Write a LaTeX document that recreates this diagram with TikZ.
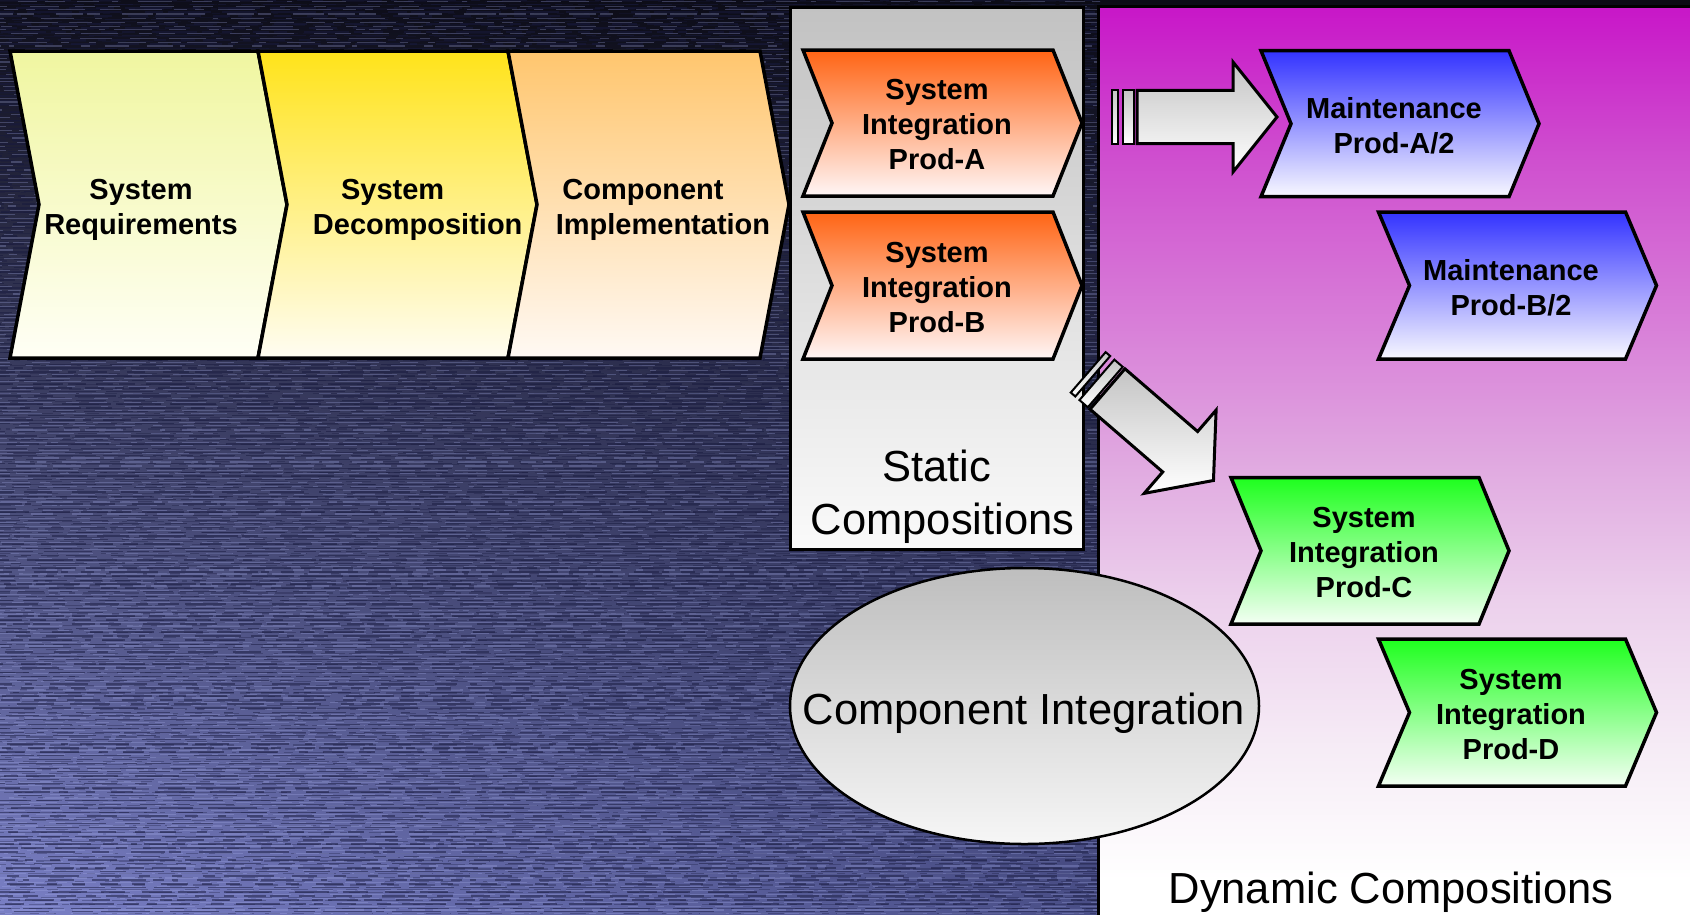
\documentclass[tikz,border=0pt]{standalone}
\usepackage{fontspec}
\setmainfont{Liberation Sans}
\usetikzlibrary{shapes.geometric,shadings}

% palette
\definecolor{bgUL}{RGB}{14,14,26}
\definecolor{bgUR}{RGB}{10,10,20}
\definecolor{bgLL}{RGB}{122,128,198}
\definecolor{bgLR}{RGB}{48,52,102}
\definecolor{streakLight}{RGB}{168,176,236}
\definecolor{streakDark}{RGB}{24,26,62}
\definecolor{reqTop}{RGB}{240,246,160}
\definecolor{reqBot}{RGB}{255,255,246}
\definecolor{decTop}{RGB}{255,227,26}
\definecolor{decBot}{RGB}{255,253,242}
\definecolor{impTop}{RGB}{255,198,110}
\definecolor{impBot}{RGB}{255,249,244}
\definecolor{orgTop}{RGB}{255,100,20}
\definecolor{orgBot}{RGB}{255,246,246}
\definecolor{bluTop}{RGB}{51,51,255}
\definecolor{bluBot}{RGB}{248,248,255}
\definecolor{grnTop}{RGB}{30,255,30}
\definecolor{grnBot}{RGB}{244,255,244}
\definecolor{statTop}{RGB}{194,194,194}
\definecolor{statBot}{RGB}{250,250,250}
\definecolor{ellTop}{RGB}{190,190,190}
\definecolor{ellBot}{RGB}{246,246,246}
\definecolor{arrTop}{RGB}{196,196,196}
\definecolor{dynA}{RGB}{246,236,246}
\definecolor{dynB}{RGB}{236,208,236}
\definecolor{dynC}{RGB}{224,168,224}
\definecolor{dynD}{RGB}{216,126,216}
\definecolor{dynE}{RGB}{207,80,207}
\definecolor{dynF}{RGB}{200,22,200}

% magenta-to-white fill of the dynamic panel
\pgfdeclareverticalshading{dynshade}{100bp}{%
  color(0bp)=(white); color(27.2bp)=(white); color(34.3bp)=(dynA);
  color(42.5bp)=(dynB); color(50.2bp)=(dynC); color(57.7bp)=(dynD);
  color(66.5bp)=(dynE); color(75bp)=(dynF); color(100bp)=(dynF)}

% chevron: style, left x, top y, bottom y, body width, point depth
\newcommand\chevshape[6]{%
  \path[#1] (#2,#3) -- ({#2+#5},#3) -- ({#2+#5+#6},{(#3+#4)/2})
    -- ({#2+#5},#4) -- (#2,#4) -- ({#2+#6},{(#3+#4)/2}) -- cycle;}

% one row of woven streaks with a random dash rhythm
\newcommand\streakrow[6]{% colour, opacity, width, y, min on, spread
  \pgfmathsetmacro\sa{#5+rnd*#6}\pgfmathsetmacro\sb{3+rnd*20}
  \pgfmathsetmacro\sc{#5+rnd*#6}\pgfmathsetmacro\sd{3+rnd*20}
  \pgfmathsetmacro\se{#5+rnd*#6}\pgfmathsetmacro\sf{3+rnd*20}
  \pgfmathsetmacro\sg{#5+rnd*#6}\pgfmathsetmacro\sh{3+rnd*20}
  \pgfmathsetmacro\si{#5+rnd*#6}\pgfmathsetmacro\sj{3+rnd*20}
  \pgfmathsetmacro\ph{rnd*300}
  \pgfmathsetmacro\yj{#4+rnd*1.2-0.6}
  \draw[#1, opacity=#2, line width=#3,
    dash pattern=on \sa pt off \sb pt on \sc pt off \sd pt on \se pt off \sf pt
      on \sg pt off \sh pt on \si pt off \sj pt, dash phase=\ph pt]
    (-10,\yj) -- (1110,\yj);}

\tikzset{
  chev/.style={draw=black, line width=3.5pt, line join=miter},
  reqchev/.style={chev, top color=reqTop, bottom color=reqBot},
  decchev/.style={chev, top color=decTop, bottom color=decBot},
  impchev/.style={chev, top color=impTop, bottom color=impBot},
  orgchev/.style={chev, top color=orgTop, bottom color=orgBot},
  bluchev/.style={chev, top color=bluTop, bottom color=bluBot},
  grnchev/.style={chev, top color=grnTop, bottom color=grnBot},
  lbl/.style={font=\bfseries\fontsize{29}{35}\selectfont, align=center,
    inner sep=0pt, text=black},
  biglbl/.style={font=\fontsize{43.5}{53}\selectfont, align=center,
    inner sep=0pt, text=black},
  arrowbody/.style={draw=black, line width=3pt, line join=miter,
    top color=arrTop, bottom color=white},
  arrowring/.style={arrowbody, line width=2pt},
  blockarrow/.pic={
    \path[arrowring] (-25.5,-26.7) rectangle (-19.5,26.7);
    \path[arrowring] (-14,-26.7) rectangle (-3,26.7);
    \path[arrowbody] (0,-26.7) -- (96,-26.7) -- (96,-55) -- (140,0)
      -- (96,55) -- (96,26.7) -- (0,26.7) -- cycle;
  },
}

\begin{document}
\begin{tikzpicture}[x=1pt, y=-1pt]
\useasboundingbox (0,0) rectangle (1690,914);

% textured navy backdrop
\shade[upper left=bgUL, upper right=bgUR, lower left=bgLL, lower right=bgLR]
  (0,0) rectangle (1690,914);
\begin{scope}
\clip (0,0) rectangle (1100,914);
\pgfmathsetseed{23}
\foreach \yy in {0,4,...,916}{
  \streakrow{streakDark}{0.5}{1.6pt}{\yy}{6}{45}
  \streakrow{streakDark}{0.3}{1.2pt}{\yy+1}{4}{25}
  \streakrow{streakLight}{0.28}{1.2pt}{\yy+2.2}{5}{35}
}
\end{scope}

% panels
\path[draw=black, line width=3pt, top color=statTop, bottom color=statBot]
  (790,7) rectangle (1083,549);
\path[draw=black, line width=3pt, shading=dynshade]
  (1098,6) rectangle (1700,920);

% development phases
\chevshape{reqchev}{10}{51}{358}{248}{29}
\chevshape{decchev}{258}{51}{358}{250}{29}
\chevshape{impchev}{508}{51}{358}{252}{29}
\node[lbl] (req) at (141,210) {System\\Requirements};
\node[lbl] (dec) at (417.7,210) {System\kern50pt\\Decomposition};
\node[lbl] (imp) at (663,210) {Component\kern40pt\\Implementation};

% static compositions
\chevshape{orgchev}{803}{50}{196}{250}{29}
\chevshape{orgchev}{803}{212}{359}{250}{29}
\node[lbl] (siA) at (937,125) {System\\Integration\\Prod-A};
\node[lbl] (siB) at (937,288) {System\\Integration\\Prod-B};
\node[biglbl] (stat) at (942.6,497) {Static\kern12pt\\Compositions};

% component integration
\node[ellipse, draw=black, line width=2.5pt, minimum width=469pt,
  minimum height=276pt, inner sep=0pt, top color=ellTop, bottom color=ellBot]
  (ci) at (1024.5,706) {};
\node[biglbl, anchor=base] (citext) at (1024,724) {Component Integration};

% dynamic compositions
\chevshape{bluchev}{1261}{50.7}{196.7}{248}{30}
\chevshape{bluchev}{1378.5}{212}{359}{247}{31}
\chevshape{grnchev}{1231}{477.5}{624}{248}{30}
\chevshape{grnchev}{1378.5}{639}{786}{247}{31}
\node[lbl] (mA) at (1394,126) {Maintenance\\Prod-A/2};
\node[lbl] (mB) at (1511,288) {Maintenance\\Prod-B/2};
\node[lbl] (siC) at (1364,553) {System\\Integration\\Prod-C};
\node[lbl] (siD) at (1511,715) {System\\Integration\\Prod-D};
\node[biglbl, anchor=base] (dyn) at (1391,903) {Dynamic Compositions};

% block arrows
\pic at (1137,117) {blockarrow};
\pic[rotate=-40.8] at (1107.5,389) {blockarrow};
\end{tikzpicture}
\end{document}
